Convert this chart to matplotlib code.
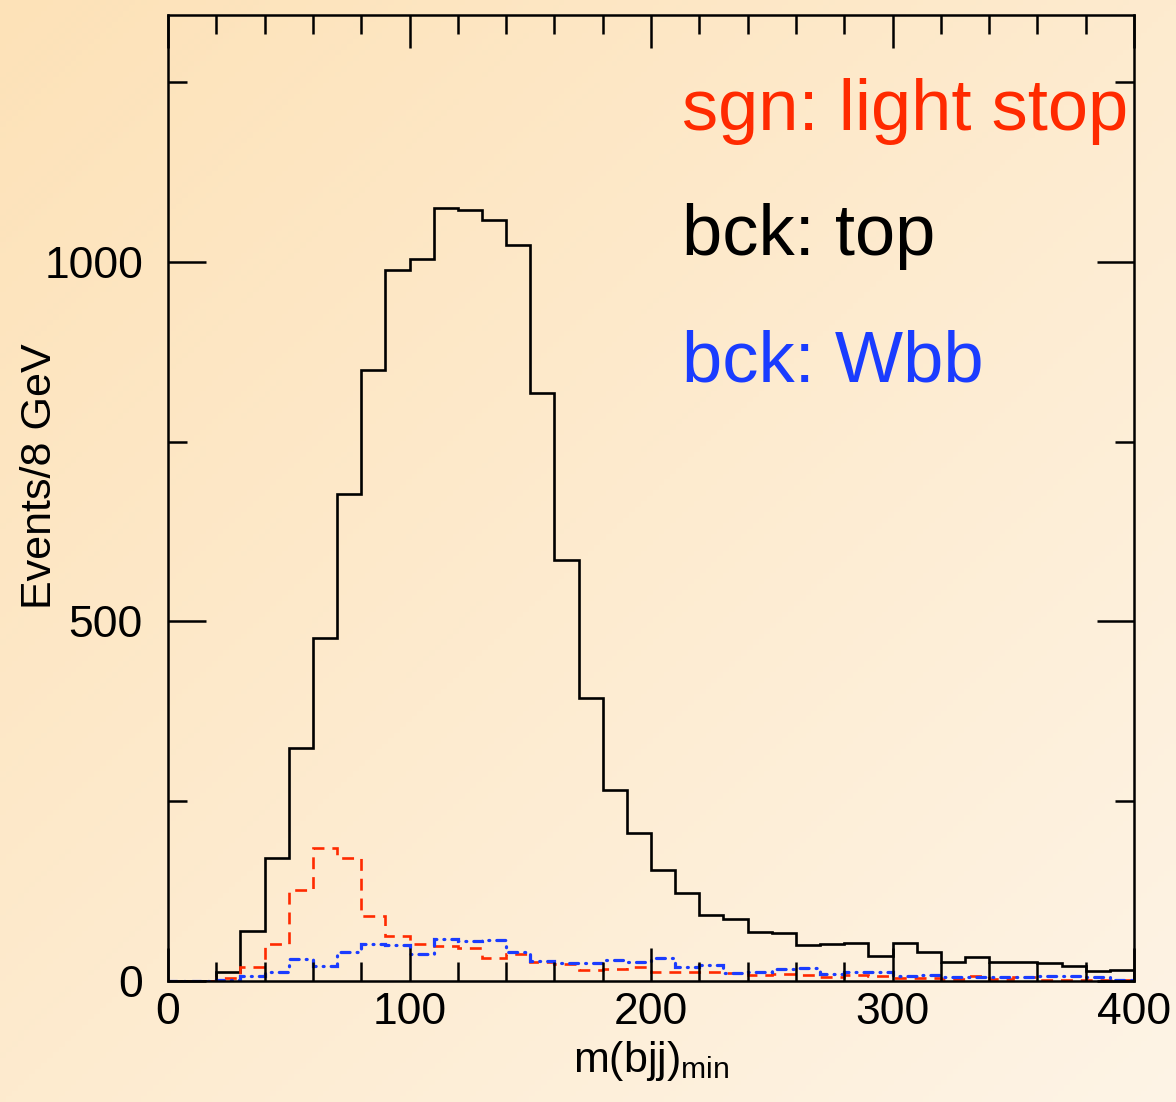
import numpy as np
import matplotlib
matplotlib.use("Agg")
import matplotlib.pyplot as plt
from matplotlib.ticker import MultipleLocator

plt.rcParams['font.family'] = ['Liberation Sans', 'DejaVu Sans']
plt.rcParams['mathtext.fontset'] = 'custom'
plt.rcParams['mathtext.rm'] = 'Liberation Sans'
plt.rcParams['mathtext.it'] = 'Liberation Sans'

# bin edges in GeV (40 bins of 10)
bin_edges = list(range(0, 410, 10))

# bck: top
top_counts = [0, 0, 12, 69, 171, 324, 477, 677, 850, 989,
              1004, 1075, 1072, 1058, 1023, 818, 585, 393, 265, 206,
              155, 123, 92, 86, 68, 67, 50, 52, 53, 35,
              53, 41, 27, 34, 27, 27, 25, 21, 14, 15]

# sgn: light stop
stop_counts = [0, 0, 4, 20, 52, 127, 185, 171, 90, 62,
               52, 48, 46, 32, 38, 27, 24, 15, 17, 19,
               13, 13, 12, 11, 8, 10, 8, 5, 8, 7,
               4, 4, 3, 7, 3, 6, 1, 2, 1, 2]

# bck: Wbb
wbb_counts = [0, 0, 1, 7, 13, 30, 21, 41, 52, 50,
              38, 58, 55, 57, 40, 28, 25, 25, 29, 26,
              32, 20, 22, 11, 12, 17, 18, 10, 12, 12,
              7, 8, 6, 6, 6, 5, 7, 7, 5, 1]

labels = ["sgn: light stop", "bck: top", "bck: Wbb"]
label_colors = ["#ff2a00", "black", "#1a3cff"]


def draw_background(fig):
    """ Diagonal orange to cream gradient behind everything """
    bg = fig.add_axes([0, 0, 1, 1], zorder=-10)
    ny, nx = 200, 200
    yy, xx = np.mgrid[0:ny, 0:nx]
    t = (xx / nx + yy / ny) / 2.0
    c0 = np.array([253, 226, 184]) / 255.0
    c1 = np.array([253, 244, 230]) / 255.0
    img = c0[None, None, :] * (1 - t[..., None]) + c1[None, None, :] * t[..., None]
    bg.imshow(img, aspect='auto', extent=[0, 1, 0, 1], origin='upper')
    bg.axis('off')


def main():
    fig = plt.figure(figsize=(11.76, 11.02), dpi=100)
    draw_background(fig)

    ax = fig.add_axes([168 / 1176, 1 - 981 / 1102, (1134 - 168) / 1176, (981 - 15) / 1102])
    ax.patch.set_alpha(0)

    ax.stairs(top_counts, bin_edges, color='black', lw=1.9)
    red = ax.stairs(stop_counts, bin_edges, color=label_colors[0], lw=1.9,
                    linestyle=(0, (4.5, 3.0)))
    blue = ax.stairs(wbb_counts, bin_edges, color=label_colors[2], lw=2.3,
                     linestyle=(0, (2.8, 2.2, 0.3, 2.2)))
    blue.set_capstyle('round')
    red.set_capstyle('butt')

    ax.set_xlim(0, 400)
    ax.set_ylim(0, 1343)

    ax.xaxis.set_major_locator(MultipleLocator(100))
    ax.xaxis.set_minor_locator(MultipleLocator(20))
    ax.yaxis.set_major_locator(MultipleLocator(500))
    ax.yaxis.set_minor_locator(MultipleLocator(250))
    ax.tick_params(which='both', direction='in', top=True, right=True, width=1.8)
    ax.tick_params(which='major', axis='x', length=24, labelsize=32, pad=8)
    ax.tick_params(which='minor', axis='x', length=13.5)
    ax.tick_params(which='major', axis='y', length=27, labelsize=32, pad=18)
    ax.tick_params(which='minor', axis='y', length=13.5)
    for s in ax.spines.values():
        s.set_linewidth(1.8)

    ax.set_ylabel("Events/8 GeV", fontsize=31, va='center')
    ax.yaxis.set_label_coords(-0.1325, 0.523)
    ax.set_xlabel(r"m(bjj)$_{\mathrm{min}}$", fontsize=31, labelpad=4)

    y_pos = [1183, 1009, 833]
    for txt, col, yp in zip(labels, label_colors, y_pos):
        ax.text(213, yp, txt, color=col, fontsize=52, va='baseline', ha='left')

    fig.savefig("out.png", dpi=100)


if __name__ == '__main__':
    main()
